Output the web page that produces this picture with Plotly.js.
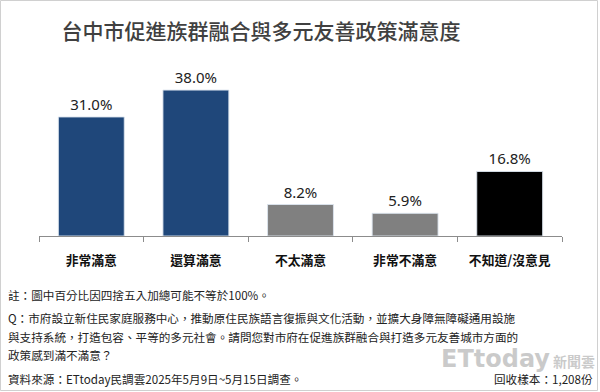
<!DOCTYPE html>
<html>
<head>
<meta charset="utf-8">
<script src="https://cdn.plot.ly/plotly-3.0.1.min.js"></script>
<style>html,body{margin:0;padding:0;background:#fff;}#chart{width:600px;height:392px;}</style>
</head>
<body>
<div id="chart"></div>
<script>
const categories = ['非常滿意', '還算滿意', '不太滿意', '非常不滿意', '不知道/沒意見'];
const values = [31.0, 38.0, 8.2, 5.9, 16.8];
const barColors = ['#1f477a', '#1f477a', '#808080', '#808080', '#000000'];
const titleText = '台中市促進族群融合與多元友善政策滿意度';
const noteLines = [
  '註：圖中百分比因四捨五入加總可能不等於100%。',
  'Q：市府設立新住民家庭服務中心，推動原住民族語言復振與文化活動，並擴大身障無障礙通用設施',
  '與支持系統，打造包容、平等的多元社會。請問您對市府在促進族群融合與打造多元友善城市方面的',
  '政策感到滿不滿意？',
  '資料來源：ETtoday民調雲2025年5月9日~5月15日調查。'
];
const sampleText = '回收樣本：1,208份';
const watermarkA = 'ETtoday';
const watermarkB = '新聞雲';

const W = 600, H = 392;
const M = {l: 39, r: 38, t: 60, b: 156};
const pw = W - M.l - M.r, ph = H - M.t - M.b;
const px = x => (x - M.l) / pw;
const py = y => (H - M.b - y) / ph;
const FONT = 'Noto Sans, Noto Sans CJK TC, sans-serif';
const CJK = 'Noto Sans CJK TC, sans-serif';

const noteY = [295, 318, 337, 355, 379];
const annotations = noteLines.map((t, i) => ({
  text: t, xref: 'paper', yref: 'paper', x: px(6), y: py(noteY[i]),
  xanchor: 'left', yanchor: 'middle', showarrow: false,
  font: {family: CJK, size: 11.6, color: '#222'}
}));
annotations.push({
  text: sampleText, xref: 'paper', yref: 'paper', x: px(595), y: py(379),
  xanchor: 'right', yanchor: 'middle', showarrow: false,
  font: {family: CJK, size: 11.6, color: '#222'}
});
annotations.push({
  text: '<b>' + watermarkA + '</b>', xref: 'paper', yref: 'paper', x: px(552), y: py(359),
  xanchor: 'right', yanchor: 'middle', showarrow: false,
  font: {family: 'DejaVu Sans, sans-serif', size: 24, color: 'rgba(150,150,150,0.5)'}
});
annotations.push({
  text: '<b>' + watermarkB + '</b>', xref: 'paper', yref: 'paper', x: px(597), y: py(361),
  xanchor: 'right', yanchor: 'middle', showarrow: false,
  font: {family: CJK, size: 14, color: 'rgba(150,150,150,0.5)'}
});

const data = [{
  type: 'bar', x: categories, y: values,
  marker: {color: barColors, line: {color: 'rgba(220,228,238,0.9)', width: 1}},
  width: 0.63,
  texttemplate: '%{y:.1f}%', textposition: 'outside', cliponaxis: false,
  textfont: {family: FONT, size: 15, color: '#222'},
  hoverinfo: 'none'
}];

const layout = {
  width: W, height: H, margin: M,
  paper_bgcolor: '#fff', plot_bgcolor: '#fff',
  showlegend: false,
  title: {text: titleText, x: 261 / W, xanchor: 'center', xref: 'container', y: 1 - 32 / H, yanchor: 'middle', yref: 'container',
          font: {family: CJK, size: 21, color: '#404040', weight: 500}},
  xaxis: {
    type: 'category', range: [-0.5, 4.5], showline: true, linecolor: '#8c8c8c', linewidth: 1,
    ticks: 'outside', tickson: 'boundaries', ticklen: 5, tickcolor: '#8c8c8c',
    showgrid: false, zeroline: false, ticklabelstandoff: 13,
    tickfont: {family: CJK, size: 12.8, color: '#111', weight: 'bold'}
  },
  yaxis: {range: [0, ph / 3.84], visible: false, showgrid: false, zeroline: false},
  shapes: [{
    type: 'rect', xref: 'paper', yref: 'paper',
    x0: px(0.5), x1: px(597.5), y0: py(390.5), y1: py(0.5),
    line: {color: '#d0d0d0', width: 1}, fillcolor: 'rgba(0,0,0,0)', layer: 'below'
  }],
  annotations: annotations
};

Plotly.newPlot('chart', data, layout, {staticPlot: true, displayModeBar: false});
</script>
</body>
</html>
